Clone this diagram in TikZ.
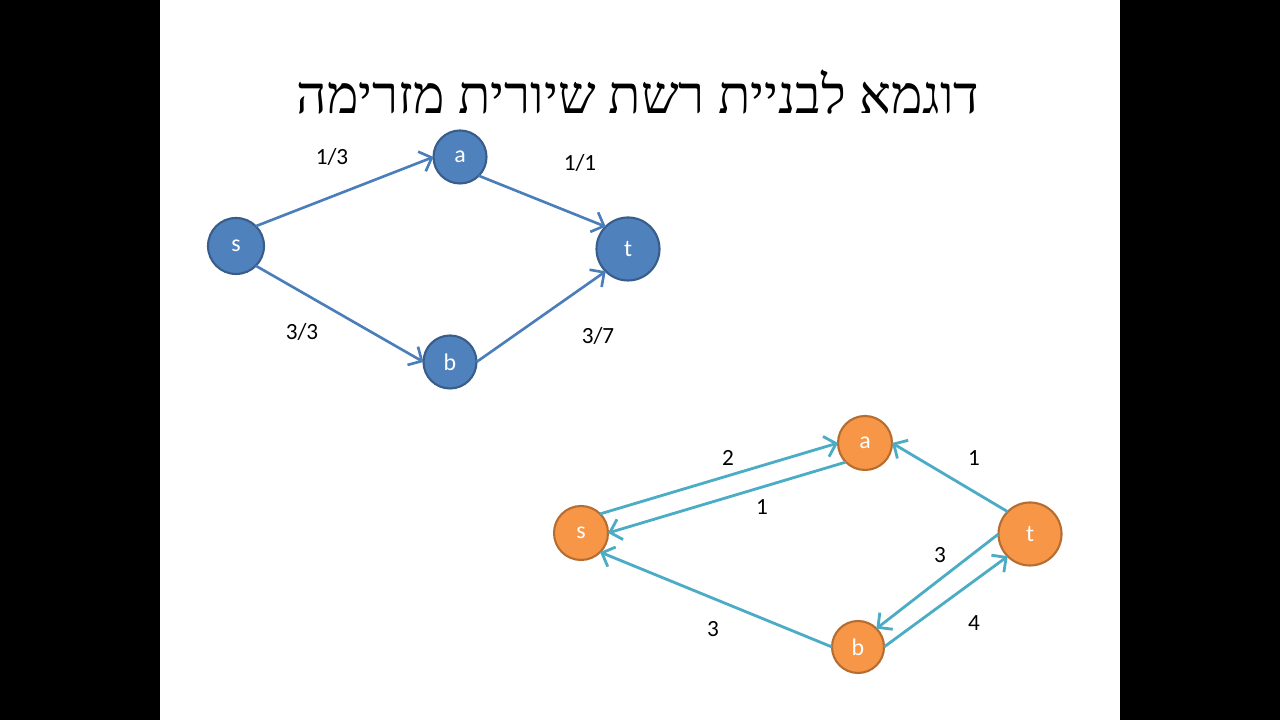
\documentclass[tikz,border=0pt]{standalone}
\usepackage{fontspec}
\setmainfont{Carlito}
\newfontfamily\hebfont[Script=Hebrew]{Liberation Serif}
\TeXXeTstate=1
\usetikzlibrary{arrows.meta}
\definecolor{nodeblue}{HTML}{4F81BD}
\definecolor{rimblue}{HTML}{385D8A}
\definecolor{edgeblue}{HTML}{4A7EBB}
\definecolor{nodeorange}{HTML}{F79646}
\definecolor{rimorange}{HTML}{B66D31}
\definecolor{edgeteal}{HTML}{4BACC6}
\begin{document}
\begin{tikzpicture}[
  vert/.style={circle, draw, line width=0.6pt, inner sep=0pt, outer sep=0pt, text=white, font=\fontsize{6.8}{8}\selectfont},
  flowvert/.style={vert, fill=nodeblue, draw=rimblue},
  restvert/.style={vert, fill=nodeorange, draw=rimorange},
  flowedge/.style={draw=edgeblue, line width=0.75pt, -{Straight Barb[length=3pt,width=6pt]}},
  restedge/.style={draw=edgeteal, line width=0.8pt, -{Straight Barb[length=3pt,width=6pt]}},
  weight/.style={font=\fontsize{6.6}{8}\selectfont}]
\useasboundingbox (0,0) rectangle (12.8,7.2);
\fill[white] (0,0) rectangle (12.8,7.2);
\fill[black] (0,0) rectangle (1.6,7.2);
\fill[black] (11.2,0) rectangle (12.8,7.2);

\node (title) at (6.38,6.28) {\hebfont\fontsize{15.1}{18}\selectfont\beginR דוגמא לבניית רשת שיורית מזרימה\endR};

% flow network
\node[flowvert, minimum size=0.56cm] (s1) at (2.36,4.74) {s};
\node[flowvert, minimum size=0.53cm] (a1) at (4.60,5.63) {a};
\node[flowvert, minimum size=0.63cm] (t1) at (6.28,4.71) {t};
\node[flowvert, minimum size=0.53cm] (b1) at (4.50,3.58) {b};

\draw[flowedge] (s1.north east) -- (a1.west);
\draw[flowedge] (a1.south east) -- (t1.north west);
\draw[flowedge] (s1.south east) -- (b1.west);
\draw[flowedge] (b1.east) -- (t1.south west);

\node[weight] (sa1) at (3.32,5.63) {1/3};
\node[weight] (at1) at (5.80,5.57) {1/1};
\node[weight] (sb1) at (3.02,3.88) {3/3};
\node[weight] (bt1) at (5.98,3.84) {3/7};

% residual network
\node[restvert, minimum size=0.54cm] (s2) at (5.81,1.87) {s};
\node[restvert, minimum size=0.54cm] (a2) at (8.65,2.77) {a};
\node[restvert, minimum size=0.63cm] (t2) at (10.30,1.86) {t};
\node[restvert, minimum size=0.52cm] (b2) at (8.58,0.73) {b};

\draw[restedge] (s2.north east) -- (a2.west);
\draw[restedge] (a2.south west) -- (s2.east);
\draw[restedge] (t2.north west) -- (a2.east);
\draw[restedge] (t2.west) -- (b2.north east);
\draw[restedge] (b2.east) -- (t2.south west);
\draw[restedge] (b2.west) -- (s2.south east);

\node[weight] (sa2) at (7.28,2.62) {2};
\node[weight] (as2) at (7.62,2.13) {1};
\node[weight] (ta2) at (9.74,2.62) {1};
\node[weight] (tb2) at (9.40,1.65) {3};
\node[weight] (bt2) at (9.74,0.97) {4};
\node[weight] (bs2) at (7.13,0.91) {3};
\end{tikzpicture}
\end{document}
